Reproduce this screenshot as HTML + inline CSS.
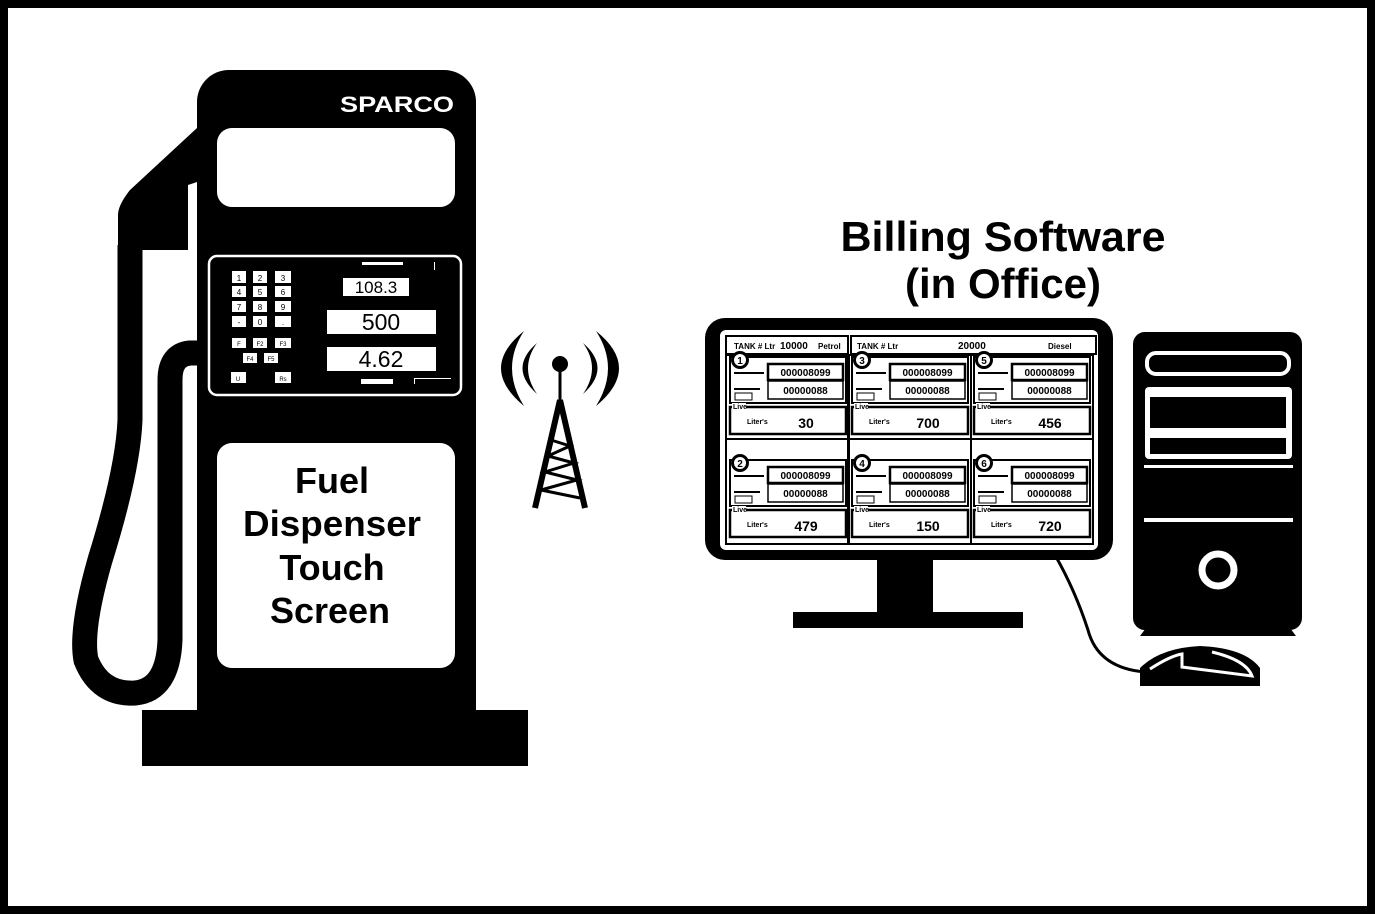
<!DOCTYPE html>
<html><head><meta charset="utf-8"><style>
html,body{margin:0;padding:0;background:#fff}
svg{display:block}
text{font-family:"Liberation Sans",sans-serif}
</style></head><body>
<svg width="1375" height="914" viewBox="0 0 1375 914" xmlns="http://www.w3.org/2000/svg">
<defs>
<g id="cell">
  <rect x="5" y="5" width="116" height="46" fill="none" stroke="#000" stroke-width="2"/>
  <rect x="43" y="12" width="75" height="16" fill="#fff" stroke="#000" stroke-width="2.5"/>
  <text x="80.5" y="24" font-size="10" font-weight="bold" text-anchor="middle">000008099</text>
  <rect x="43" y="29" width="75" height="18" fill="#fff" stroke="#000" stroke-width="1.5"/>
  <text x="80.5" y="42" font-size="10" font-weight="bold" text-anchor="middle">00000088</text>
  <rect x="9" y="20" width="30" height="2" fill="#000"/>
  <rect x="9" y="36" width="26" height="2" fill="#000"/>
  <rect x="10" y="41" width="17" height="7" fill="#fff" stroke="#000" stroke-width="1"/>
  <rect x="5" y="55" width="116" height="27" fill="none" stroke="#000" stroke-width="2.5"/>
  <rect x="7" y="51" width="14" height="6" fill="#fff"/>
  <text x="8" y="57" font-size="7" font-weight="bold">Live</text>
  <text x="22" y="72" font-size="7" font-weight="bold">Liter's</text>
  <circle cx="15" cy="8" r="9" fill="#000"/>
  <circle cx="15" cy="8" r="6" fill="#fff"/>
</g>
</defs>
<rect x="0" y="0" width="1375" height="914" fill="#fff"/>
<rect x="4" y="4" width="1367" height="906" fill="none" stroke="#000" stroke-width="8"/>

<!-- PUMP -->
<path d="M197,128 L130,190 Q118,205 118,215 L118,250 L188,250 L188,185 L197,182 Z" fill="#000"/>
<path d="M130,245 L130,420 Q128,470 100,560 Q80,630 86,660 Q100,695 135,693 Q168,690 170,640 L170,380 Q170,355 190,353 L200,353" fill="none" stroke="#000" stroke-width="25"/>
<rect x="197" y="70" width="279" height="650" rx="32" fill="#000"/>
<rect x="197" y="300" width="279" height="420" fill="#000"/>
<rect x="142" y="710" width="386" height="56" fill="#000"/>
<text x="397" y="112" font-size="22" font-weight="bold" fill="#fff" text-anchor="middle" textLength="114" lengthAdjust="spacingAndGlyphs">SPARCO</text>
<rect x="217" y="128" width="238" height="79" rx="15" fill="#fff"/>
<rect x="209" y="256" width="252" height="139" rx="8" fill="#000" stroke="#fff" stroke-width="2.5"/>
<g fill="#fff">
<rect x="232" y="271" width="14" height="12"/><rect x="253" y="271" width="14" height="12"/><rect x="275" y="271" width="16" height="12"/>
<rect x="232" y="286" width="14" height="11"/><rect x="253" y="286" width="14" height="11"/><rect x="275" y="286" width="16" height="11"/>
<rect x="232" y="301" width="14" height="11"/><rect x="253" y="301" width="14" height="11"/><rect x="275" y="301" width="16" height="11"/>
<rect x="232" y="316" width="14" height="11"/><rect x="253" y="316" width="14" height="11"/><rect x="275" y="316" width="16" height="11"/>
<rect x="232" y="338" width="14" height="10"/><rect x="253" y="338" width="14" height="10"/><rect x="275" y="338" width="16" height="10"/>
<rect x="243" y="353" width="14" height="10"/><rect x="264" y="353" width="14" height="10"/>
<rect x="231" y="372" width="15" height="11"/><rect x="275" y="372" width="16" height="11"/>
<rect x="343" y="278" width="66" height="18"/>
<rect x="327" y="310" width="109" height="24"/>
<rect x="327" y="347" width="109" height="24"/>
<rect x="362" y="262" width="41" height="3"/>
<rect x="361" y="379" width="32" height="5"/>
<rect x="414" y="378" width="37" height="1"/><rect x="414" y="378" width="1" height="6"/>
<rect x="434" y="262" width="1" height="8"/>
</g>
<g font-size="8" text-anchor="middle">
<text x="239" y="281">1</text><text x="260" y="281">2</text><text x="283" y="281">3</text>
<text x="239" y="295">4</text><text x="260" y="295">5</text><text x="283" y="295">6</text>
<text x="239" y="310">7</text><text x="260" y="310">8</text><text x="283" y="310">9</text>
<text x="239" y="325">-</text><text x="260" y="325">0</text><text x="283" y="325">.</text>
<text x="239" y="346" font-size="6">F</text><text x="260" y="346" font-size="6">F2</text><text x="283" y="346" font-size="6">F3</text>
<text x="250" y="361" font-size="6">F4</text><text x="271" y="361" font-size="6">F5</text>
<text x="238" y="381" font-size="6">U</text><text x="283" y="381" font-size="6">Rs</text>
</g>
<text x="376" y="293" font-size="17" text-anchor="middle">108.3</text>
<text x="381" y="330" font-size="23" text-anchor="middle">500</text>
<text x="381" y="367" font-size="23" text-anchor="middle">4.62</text>
<rect x="217" y="443" width="238" height="225" rx="15" fill="#fff"/>
<g font-size="36" font-weight="bold" text-anchor="middle">
<text x="332" y="493">Fuel</text>
<text x="332" y="536" textLength="178" lengthAdjust="spacingAndGlyphs">Dispenser</text>
<text x="332" y="580">Touch</text>
<text x="330" y="623">Screen</text>
</g>

<!-- TOWER -->
<g fill="#000">
<path d="M524,331 Q478,368 524,406 Q500,368 524,331 Z"/>
<path d="M537,343 Q508,368 537,394 Q519,368 537,343 Z"/>
<path d="M596,331 Q642,368 596,406 Q620,368 596,331 Z"/>
<path d="M583,343 Q612,368 583,394 Q601,368 583,343 Z"/>
<circle cx="560" cy="364" r="8"/>
</g>
<g stroke="#000" fill="none">
<line x1="560" y1="364" x2="560" y2="402" stroke-width="3"/>
<line x1="560" y1="400" x2="535" y2="508" stroke-width="6"/>
<line x1="560" y1="400" x2="585" y2="508" stroke-width="6"/>
<path d="M551,440 L570,446 L548,456 L574,463 L545,472 L577,480 L541,490 L580,498" stroke-width="3"/>
</g>

<!-- TITLE -->
<g font-size="42" font-weight="bold" text-anchor="middle">
<text x="1003" y="251" textLength="325" lengthAdjust="spacingAndGlyphs">Billing Software</text>
<text x="1003" y="298">(in Office)</text>
</g>

<!-- MONITOR -->
<path d="M1055,555 Q1075,590 1088,630 Q1098,668 1145,672" fill="none" stroke="#000" stroke-width="3"/>
<rect x="705" y="318" width="408" height="242" rx="20" fill="#000"/>
<rect x="720" y="330" width="378" height="220" rx="6" fill="#fff"/>
<rect x="877" y="558" width="56" height="56" fill="#000"/>
<rect x="793" y="612" width="230" height="16" fill="#000"/>
<g fill="none" stroke="#000" stroke-width="2">
<rect x="726" y="336" width="122" height="18"/>
<rect x="851" y="336" width="245" height="18"/>
<rect x="726" y="355" width="122" height="84"/>
<rect x="849" y="355" width="122" height="84"/>
<rect x="971" y="355" width="122" height="84"/>
<rect x="726" y="439" width="122" height="105"/>
<rect x="849" y="439" width="122" height="105"/>
<rect x="971" y="439" width="122" height="105"/>
</g>
<g font-size="8" font-weight="bold">
<text x="734" y="349">TANK # Ltr</text><text x="780" y="349" font-size="10">10000</text><text x="818" y="349">Petrol</text>
<text x="857" y="349">TANK # Ltr</text><text x="958" y="349" font-size="10">20000</text><text x="1048" y="349">Diesel</text>
</g>
<use href="#cell" x="725" y="352"/>
<use href="#cell" x="847" y="352"/>
<use href="#cell" x="969" y="352"/>
<use href="#cell" x="725" y="455"/>
<use href="#cell" x="847" y="455"/>
<use href="#cell" x="969" y="455"/>
<g font-size="10" font-weight="bold" text-anchor="middle">
<text x="740" y="364">1</text><text x="862" y="364">3</text><text x="984" y="364">5</text>
<text x="740" y="467">2</text><text x="862" y="467">4</text><text x="984" y="467">6</text>
</g>
<g font-size="14" font-weight="bold" text-anchor="middle">
<text x="806" y="428">30</text><text x="928" y="428">700</text><text x="1050" y="428">456</text>
<text x="806" y="531">479</text><text x="928" y="531">150</text><text x="1050" y="531">720</text>
</g>

<!-- TOWER PC -->
<rect x="1133" y="332" width="169" height="298" rx="12" fill="#000"/>
<path d="M1146,628 L1290,628 L1296,636 L1140,636 Z" fill="#000"/>
<rect x="1147" y="353" width="142" height="21" rx="9" fill="#000" stroke="#fff" stroke-width="4"/>
<rect x="1145" y="387" width="147" height="72" rx="4" fill="#fff"/>
<rect x="1150" y="397" width="136" height="31" fill="#000"/>
<rect x="1150" y="438" width="136" height="16" fill="#000"/>
<rect x="1144" y="465" width="149" height="3" fill="#fff"/>
<rect x="1144" y="518" width="149" height="4" fill="#fff"/>
<circle cx="1218" cy="570" r="16" fill="#000" stroke="#fff" stroke-width="7"/>

<!-- MOUSE -->
<path d="M1140,686 L1140,668 Q1160,648 1200,646 Q1245,648 1260,668 L1260,686 Z" fill="#000"/>
<path d="M1150,669 Q1170,656 1182,654 L1182,667 L1252,676 Q1246,660 1212,652" fill="none" stroke="#fff" stroke-width="3"/>
</svg>
</body></html>
